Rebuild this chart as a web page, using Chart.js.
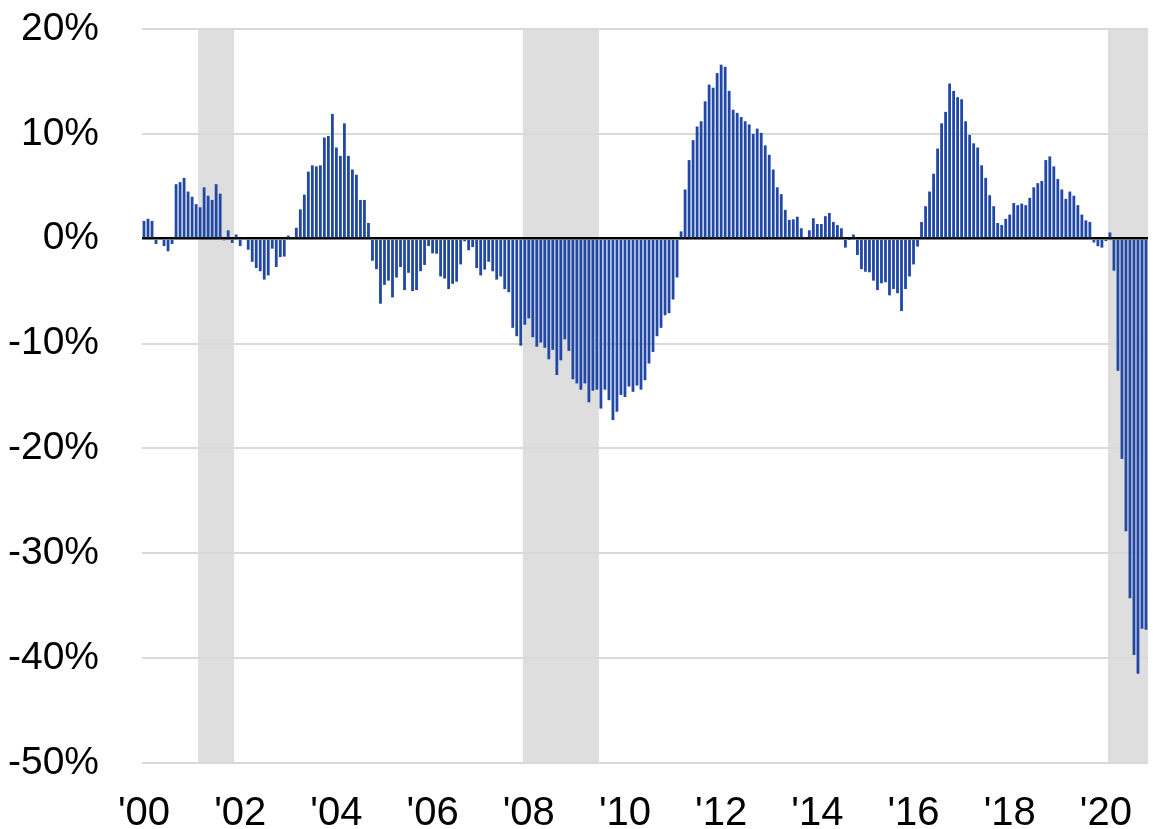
<!DOCTYPE html>
<html>
<head>
<meta charset="utf-8">
<script src="https://cdn.jsdelivr.net/npm/chart.js@4.4.1/dist/chart.umd.min.js"></script>
<style>
  html, body { margin: 0; padding: 0; background: #fff; }
  #wrap { width: 1153px; height: 829px; position: relative; }
</style>
</head>
<body>
<div id="wrap"><canvas id="grafico"></canvas></div>
<script>
// monthly values, Jan 2000 .. Nov 2020 (% y/y)
const v2000 = [1.7, 1.9, 1.7, -0.5, -0.1, -0.7, -1.2, -0.5, 5.2, 5.4, 5.8, 4.5];
const v2001 = [4.0, 3.3, 3.0, 4.9, 4.1, 3.7, 5.2, 4.3, -0.15, 0.8, -0.4, 0.4];
const v2002 = [-0.7, 0.1, -1.05, -2.2, -2.8, -3.1, -3.9, -3.5, -0.95, -2.7, -1.75, -1.7];
const v2003 = [0.3, 0.15, 1.05, 2.8, 4.2, 6.4, 7.0, 6.9, 7.0, 9.65, 9.8, 11.9];
const v2004 = [8.7, 7.9, 11.0, 7.9, 6.6, 6.1, 3.7, 3.7, 1.5, -2.1, -2.9, -6.2];
const v2005 = [-4.4, -4.0, -5.6, -3.7, -2.7, -4.9, -3.25, -5.0, -4.9, -3.1, -2.5, -0.7];
const v2006 = [-1.4, -1.43, -3.6, -3.8, -4.8, -4.3, -4.1, -2.45, -0.25, -1.1, -0.8, -2.8];
const v2007 = [-3.5, -2.95, -2.2, -3.1, -3.9, -3.6, -4.8, -5.1, -8.5, -9.3, -10.2, -8.2];
const v2008 = [-7.6, -9.4, -10.3, -9.9, -10.4, -11.5, -10.6, -13.0, -11.6, -9.6, -10.7, -13.4];
const v2009 = [-13.8, -14.4, -13.8, -15.6, -14.5, -14.4, -16.2, -14.4, -15.4, -17.3, -16.5, -14.9];
const v2010 = [-15.1, -14.1, -14.6, -14.0, -14.4, -13.5, -11.9, -10.8, -9.3, -8.5, -7.3, -7.1];
const v2011 = [-5.8, -3.7, 0.7, 4.7, 7.5, 9.4, 10.7, 11.2, 13.1, 14.7, 14.4, 15.8];
const v2012 = [16.6, 16.4, 14.1, 12.3, 12.0, 11.6, 11.2, 10.9, 10.0, 10.5, 10.1, 8.9];
const v2013 = [8.0, 6.6, 4.9, 4.25, 2.75, 1.8, 1.85, 2.1, 1.0, 0.05, 0.8, 1.95];
const v2014 = [1.4, 1.4, 2.15, 2.45, 1.6, 1.3, 1.0, -0.85, -0.05, 0.4, -1.55, -2.9];
const v2015 = [-3.15, -3.2, -4.0, -4.9, -4.25, -4.15, -5.4, -4.8, -5.2, -6.9, -4.8, -3.6];
const v2016 = [-2.45, -0.75, 1.6, 3.1, 4.5, 6.2, 8.6, 11.0, 12.1, 14.8, 14.1, 13.5];
const v2017 = [13.3, 11.2, 9.9, 9.1, 8.7, 7.0, 5.8, 4.15, 3.1, 1.5, 1.3, 1.9];
const v2018 = [2.3, 3.4, 3.2, 3.35, 3.2, 3.9, 4.9, 5.3, 5.5, 7.5, 7.85, 6.9];
const v2019 = [5.7, 4.7, 3.8, 4.5, 4.1, 3.2, 2.3, 1.75, 1.6, -0.36, -0.72, -0.85];
const v2020 = [-0.23, 0.6, -3.05, -12.6, -21.0, -27.9, -34.3, -39.7, -41.5, -37.2, -37.3];

const valores = [].concat(v2000, v2001, v2002, v2003, v2004, v2005, v2006, v2007, v2008, v2009,
  v2010, v2011, v2012, v2013, v2014, v2015, v2016, v2017, v2018, v2019, v2020);

// month labels 2000-01 .. 2020-11
const meses = [];
for (let a = 2000; a <= 2020; a++) {
  for (let m = 1; m <= 12; m++) {
    if (meses.length < valores.length) meses.push(a + '-' + String(m).padStart(2, '0'));
  }
}

const rotulosX = ["'00", "'02", "'04", "'06", "'08", "'10", "'12", "'14", "'16", "'18", "'20"];
const rotulosY = [20, 10, 0, -10, -20, -30, -40, -50];

// recessions (first and last month shaded)
const recInicio = ['2001-03', '2007-12', '2020-02'];
const recFim = ['2001-11', '2009-06', '2020-11'];

const faixas = {
  id: 'faixas',
  beforeDraw(chart) {
    const { ctx, chartArea, scales } = chart;
    const x = scales.x;
    const meia = (x.getPixelForValue(1) - x.getPixelForValue(0)) / 2;
    ctx.save();
    ctx.fillStyle = '#dedede';
    recInicio.forEach((ini, k) => {
      const a = x.getPixelForValue(meses.indexOf(ini)) - meia;
      const b = Math.min(x.getPixelForValue(meses.indexOf(recFim[k])) + meia, chartArea.right);
      ctx.fillRect(a, chartArea.top, b - a, chartArea.bottom - chartArea.top);
    });
    ctx.restore();
  }
};

const ctx = document.getElementById('grafico').getContext('2d');
const meuGrafico = new Chart(ctx, {
  type: 'bar',
  data: {
    labels: meses,
    datasets: [{
      data: valores,
      backgroundColor: '#2148a6',
      borderWidth: 0,
      barPercentage: 0.7,
      categoryPercentage: 1
    }]
  },
  options: {
    responsive: true,
    maintainAspectRatio: false,
    animation: false,
    layout: { padding: { top: 29, right: 5, left: 0, bottom: 0 } },
    plugins: { legend: { display: false }, tooltip: { enabled: false } },
    scales: {
      x: {
        grid: { display: false },
        border: { display: false },
        ticks: {
          autoSkip: false,
          maxRotation: 0,
          padding: 19,
          color: '#000',
          font: { family: "'Liberation Sans', Arial", size: 40 },
          callback: (val, i) => (i % 24 === 0 ? rotulosX[i / 24] : null)
        },
        afterFit: (s) => { s.height = 66; s.paddingLeft = 0; s.paddingRight = 0; }
      },
      y: {
        min: rotulosY[rotulosY.length - 1],
        max: rotulosY[0],
        grid: {
          color: (c) => (c.tick.value === 0 ? '#000' : '#d9d9d9'),
          lineWidth: (c) => (c.tick.value === 0 ? 2.5 : 2),
          drawTicks: false
        },
        border: { display: false },
        ticks: {
          stepSize: 10,
          padding: 43,
          color: '#000',
          font: { family: "'Liberation Sans', Arial", size: 39 },
          callback: (v) => v + '%'
        },
        afterFit: (s) => { s.width = 142; s.paddingTop = 0; s.paddingBottom = 0; }
      }
    }
  },
  plugins: [faixas]
});
</script>
</body>
</html>
